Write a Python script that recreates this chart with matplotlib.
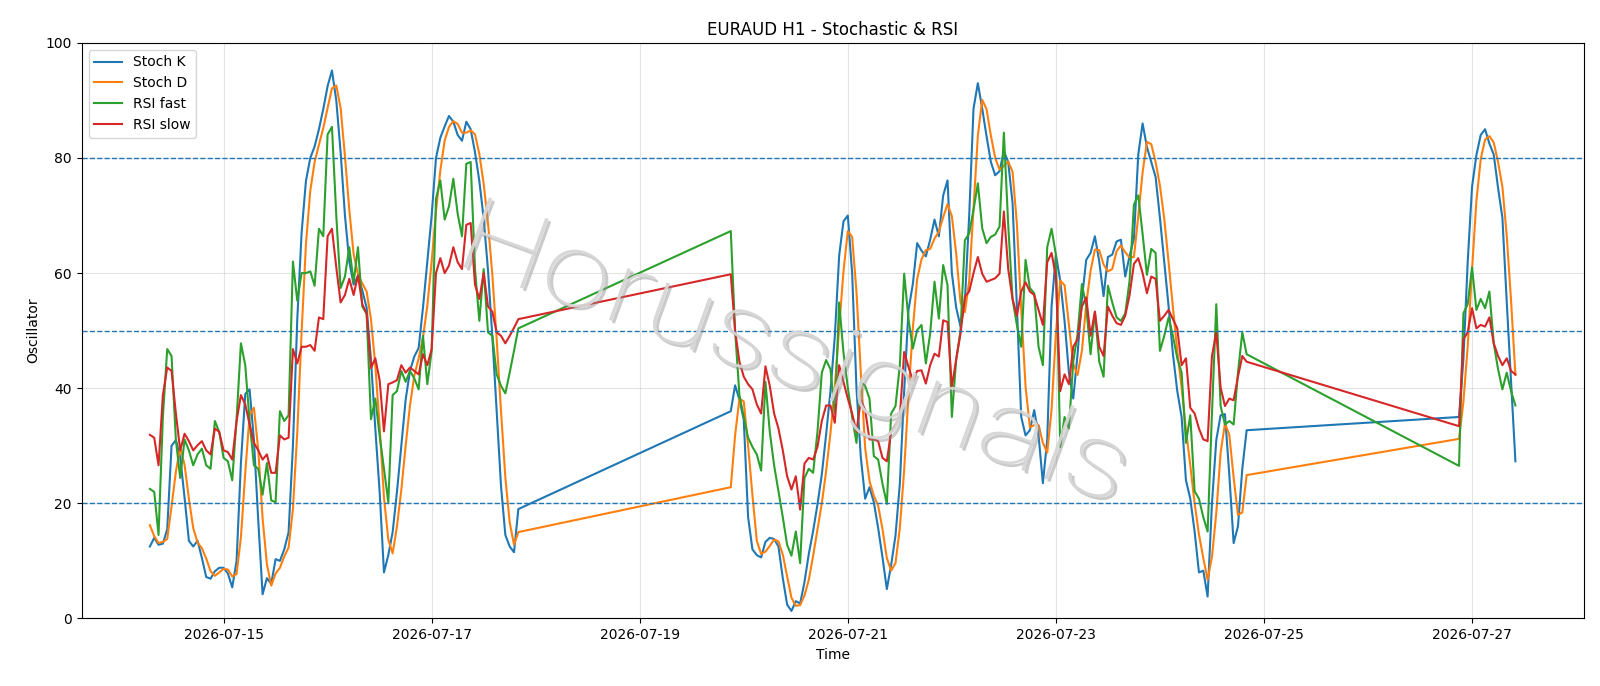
import pandas as pd
import matplotlib
matplotlib.use("Agg")
import matplotlib.pyplot as plt
import matplotlib.patheffects as pe
from matplotlib.textpath import TextPath
from matplotlib.patches import PathPatch
from matplotlib.font_manager import FontProperties
from matplotlib.transforms import Affine2D, IdentityTransform

# ---- time axis: three trading blocks of hourly bars ----
seg_a = pd.date_range("2026-07-14 07:00", "2026-07-17 20:00", freq="h")
seg_b = pd.date_range("2026-07-19 21:00", "2026-07-24 20:00", freq="h")
seg_c = pd.date_range("2026-07-26 21:00", "2026-07-27 10:00", freq="h")

# ---- Stoch K ----
stoch_k_a = [12.5, 14.0, 12.8, 13.0, 15.5, 30.0, 31.0, 28.0, 21.0, 13.5,
             12.5, 13.5, 10.5, 7.2, 6.9, 8.2, 8.8, 8.8, 7.8, 5.4,
             10.0, 27.0, 39.0, 39.8, 31.0, 17.0, 4.2, 7.0, 6.0, 10.3,
             10.0, 12.0, 15.0, 30.0, 52.0, 67.0, 76.0, 80.0, 82.0, 85.0,
             88.5, 92.5, 95.2, 90.0, 81.0, 70.0, 62.0, 58.0, 59.5, 57.0,
             54.0, 45.0, 33.0, 22.0, 8.0, 11.0, 15.0, 22.0, 30.0, 38.0,
             43.0, 45.5, 47.0, 54.0, 62.0, 70.0, 80.0, 83.5, 85.5, 87.3,
             86.3, 84.0, 83.0, 86.3, 85.0, 81.0, 76.0, 69.5, 60.5, 49.0,
             36.0, 23.0, 14.5, 12.5, 11.5, 19.0]
stoch_k_b = [36, 40.5, 38, 34.5, 17.6, 12, 11, 10.6, 13.3, 14,
             13.8, 12.5, 7, 2.4, 1.3, 3, 2.6, 6.3, 11.2, 15.2,
             19.8, 25, 32, 39.5, 49, 63, 69, 70, 60, 40,
             28, 20.8, 22.8, 20.2, 15.7, 10.6, 5.1, 9.3, 14.4, 23.4,
             39.5, 53.6, 58.1, 65.2, 63.9, 62.9, 65.8, 69.3, 66.4, 73.5,
             76.1, 60, 54, 50.7, 55, 70, 88.6, 93, 88.6, 83.8,
             79.3, 77, 77.7, 81.2, 79.3, 72.2, 54.2, 35, 31.8, 32.7,
             36.2, 31.8, 23.5, 31.1, 54.2, 63.2, 58.7, 51.7, 42.7, 38.2,
             45.9, 55.5, 62.3, 63.5, 66.4, 62, 56, 62.8, 63.2, 65.5,
             65.8, 59.4, 63, 66, 80.6, 86, 81.9, 79.3, 76.7, 69.6,
             61.9, 54.2, 45.9, 39.5, 35, 24, 20.8, 15.1, 8, 8.3,
             3.8, 20, 31, 35.3, 35.5, 25, 13.1, 16, 26, 32.7]
stoch_k_c = [35, 45, 62, 75, 80.5, 84, 85, 82.5, 80.6, 74.8, 69.6, 55, 41, 27.3]

# ---- Stoch D ----
stoch_d_a = [16.2, 14.3, 13.1, 13.3, 13.8, 19.5, 25.5, 29.7, 26.7, 20.8,
             15.7, 13.2, 12.2, 10.4, 8.2, 7.4, 8.0, 8.6, 8.5, 7.3,
             7.7, 14.1, 25.3, 35.3, 36.6, 29.3, 17.4, 9.4, 5.7, 7.8,
             8.8, 10.8, 12.3, 19.0, 32.3, 49.7, 65.0, 74.3, 79.3, 82.3,
             85.2, 88.7, 92.1, 92.6, 88.7, 80.3, 71.0, 63.3, 59.8, 58.2,
             56.8, 52.0, 44.0, 33.3, 21.0, 13.7, 11.3, 16.0, 22.3, 30.0,
             37.0, 42.2, 45.2, 48.8, 54.3, 62.0, 70.7, 77.8, 83.0, 85.4,
             86.4, 85.9, 84.4, 84.4, 84.8, 84.1, 80.7, 75.5, 68.7, 59.7,
             48.5, 36.0, 24.5, 16.7, 12.8, 15.0]
stoch_d_b = [22.8, 31.8, 38.2, 37.7, 30.0, 21.4, 13.5, 11.2, 11.6, 12.6,
             13.7, 13.4, 11.1, 7.3, 3.6, 2.2, 2.3, 4.0, 6.7, 10.9,
             15.4, 20.0, 25.6, 32.2, 40.2, 50.5, 60.3, 67.3, 66.3, 56.7,
             42.7, 29.6, 23.9, 21.3, 19.6, 15.5, 10.5, 8.3, 9.6, 15.7,
             25.8, 38.8, 50.4, 59.0, 62.4, 64.0, 64.2, 66.0, 67.2, 69.7,
             72.0, 69.9, 63.4, 54.9, 53.2, 58.6, 71.2, 83.9, 90.1, 88.5,
             83.9, 80.0, 78.0, 78.6, 79.4, 77.6, 68.6, 53.8, 40.3, 33.2,
             33.6, 33.6, 30.5, 28.8, 36.3, 49.5, 58.7, 57.9, 51.0, 44.2,
             42.3, 46.5, 54.6, 60.4, 64.1, 64.0, 61.5, 60.3, 60.7, 63.8,
             64.8, 63.6, 62.7, 62.8, 69.9, 77.5, 82.8, 82.4, 79.3, 75.2,
             69.4, 61.9, 54.0, 46.5, 40.1, 32.8, 26.6, 20.0, 14.6, 10.5,
             6.7, 10.7, 18.3, 28.8, 33.9, 31.9, 24.5, 18.0, 18.4, 24.9]
stoch_d_c = [31.2, 37.6, 47.3, 60.7, 72.5, 79.8, 83.2, 83.8, 82.7, 79.3, 75.0, 66.5, 55.2, 42.3]

# ---- RSI fast ----
rsi_fast_a = [22.5, 22, 14.5, 35, 46.8, 45.6, 31, 24.4, 31.1, 29.2,
              26.6, 28.5, 29.5, 26.6, 26, 34.3, 32.4, 27.9, 27.3, 24,
              34.6, 47.8, 44, 34.3, 26.6, 26, 21.5, 27, 20.5, 20.2,
              36, 34.3, 35.3, 62, 55.2, 60, 60, 60.3, 57.8, 67.7,
              66.4, 84.1, 85.4, 70, 57.4, 59.4, 64.5, 58.4, 64.5, 54.2,
              52.9, 34.6, 38.2, 31.8, 26, 20.2, 38.8, 39.5, 43, 41.1,
              43, 41.7, 39.8, 49.1, 40.7, 46.5, 72.9, 76.1, 69.3, 71.6,
              76.4, 70.3, 66.4, 79, 79.3, 60.7, 51.7, 60.7, 49.7, 49.1,
              42.4, 40.4, 39.1, 42.7, 46.5, 50.4]
rsi_fast_b = [67.3, 50, 38.8, 35, 31.4, 29.8, 28.5, 25.7, 41.1, 32.4,
              26.6, 22.1, 17.6, 12.8, 10.9, 15.1, 9.6, 24.4, 26, 25.3,
              32.4, 42.7, 44.9, 43.3, 35.6, 54.9, 46.2, 40.1, 35, 30.5,
              41.1, 40.4, 38.2, 28.2, 27.6, 23.4, 19.9, 35.6, 36.9, 44,
              59.9, 52, 46.9, 50.1, 51, 44.3, 49.5, 58.5, 52.1, 61.4,
              57.9, 35, 45, 50, 65.7, 66.9, 71, 75.6, 67.8, 65.2,
              66.3, 66.7, 68.1, 84.4, 68.4, 55.5, 51, 47.2, 62.3, 57.4,
              56.5, 47.2, 44, 64.5, 67.7, 63.2, 29.8, 35, 33, 44.6,
              49.4, 58.1, 54.2, 45.9, 53.3, 44.6, 42, 57.8, 54.9, 52.3,
              51.7, 53, 58.7, 71.9, 73.5, 66.8, 59.7, 64.2, 63.5, 46.5,
              49.1, 52.3, 49.1, 45.2, 42.7, 30.5, 35.3, 22.1, 20.8, 17.6,
              15.1, 35.6, 54.6, 36.9, 33.7, 34.3, 33.7, 42.7, 49.7, 45.9]
rsi_fast_c = [26.5, 53, 54.6, 61, 53.6, 55.5, 53.9, 56.8, 47.8, 43.3, 39.8, 42.7, 39.5, 37]

# ---- RSI slow ----
rsi_slow_a = [31.9, 31.4, 26.6, 38.8, 43.6, 43, 35.6, 29.2, 32.1, 30.8,
              29.2, 30.1, 30.8, 29.2, 28.5, 33, 32.4, 29.2, 28.9, 27.6,
              34.3, 38.8, 37.2, 33.7, 30.5, 29.2, 27.6, 28.5, 25.3, 25.3,
              31.8, 31.1, 31.4, 46.8, 44.3, 47.2, 47.2, 47.5, 46.5, 52.3,
              52, 66.4, 67.7, 61, 54.9, 56.2, 59, 56.2, 59.6, 54.6,
              53, 43.5, 45.2, 41.4, 32.5, 40.7, 41, 41.4, 44, 42.7,
              43.6, 43, 42.4, 45.9, 44, 46.8, 60, 62.6, 60, 61.3,
              64.5, 61.9, 60.7, 68.4, 68.7, 58, 55.5, 60, 54.2, 53.3,
              49.7, 49.1, 47.8, 49.1, 50.5, 52]
rsi_slow_b = [59.8, 50, 44.6, 42, 40.7, 39.8, 37.2, 35.6, 43.8, 40.4,
              35.6, 33, 29.2, 24.7, 22.4, 24.7, 18.9, 26.9, 27.9, 27.6,
              29.8, 34.3, 37, 37, 34, 44, 41.1, 38.2, 35.6, 32.4,
              37.9, 36.2, 31.1, 31.1, 30.8, 27.9, 27.3, 32.4, 33.7, 35,
              46.3, 43.7, 41.3, 43, 43.1, 40.8, 44, 46, 45.5, 51.8,
              51.5, 40.2, 45, 49.5, 55.9, 56.8, 60, 62.8, 59.9, 58.5,
              58.8, 59.1, 59.9, 70.7, 60.7, 55.5, 52.6, 56.8, 58.4, 56.8,
              56.2, 53.6, 51, 61.9, 63.5, 59.4, 39.5, 42.4, 40.7, 47.2,
              48.5, 54.2, 55.8, 49.1, 53.3, 47.2, 45.6, 54.2, 52.6, 51.3,
              51, 52.6, 56.2, 61.6, 62.6, 60, 56.5, 59.4, 59, 51.7,
              52.6, 53.6, 52, 50.4, 44, 45.2, 36.6, 35.6, 33, 31.1,
              30.8, 45.6, 49.7, 40.1, 36.9, 38.2, 37.9, 42, 45.6, 44.6]
rsi_slow_c = [33.4, 48.5, 49.7, 53.9, 50.4, 51, 50.7, 52.3, 47.8, 45.6, 44, 45.2, 43, 42.4]

levels = [20, 50, 80]
tick_dates = ["2026-07-15", "2026-07-17", "2026-07-19", "2026-07-21",
              "2026-07-23", "2026-07-25", "2026-07-27"]
watermark = "Horussignals"

times = seg_a.append(seg_b).append(seg_c)
stoch_k = stoch_k_a + stoch_k_b + stoch_k_c
stoch_d = stoch_d_a + stoch_d_b + stoch_d_c
rsi_fast = rsi_fast_a + rsi_fast_b + rsi_fast_c
rsi_slow = rsi_slow_a + rsi_slow_b + rsi_slow_c

W, H, DPI = 1600, 686, 100
fig = plt.figure(figsize=(W / DPI, H / DPI), dpi=DPI)
ax = fig.add_axes([0.051, 0.0985, 0.9388, 0.839])

ax.plot(times, stoch_k, color="#1f77b4", lw=1.5, label="Stoch K")
ax.plot(times, stoch_d, color="#ff7f0e", lw=1.5, label="Stoch D")
ax.plot(times, rsi_fast, color="#2ca02c", lw=1.5, label="RSI fast")
ax.plot(times, rsi_slow, color="#d62728", lw=1.5, label="RSI slow")

for lv in levels:
    ax.axhline(lv, color="#1f77b4", ls="--", lw=1.0)

ax.set_ylim(0, 100)
ticks = pd.to_datetime(tick_dates)
ax.set_xticks(ticks)
ax.set_xticklabels(tick_dates)
ax.grid(True, color="#b0b0b0", alpha=0.35, lw=0.8)
ax.set_title("EURAUD H1 - Stochastic & RSI", fontsize=12)
ax.set_xlabel("Time")
ax.set_ylabel("Oscillator")
ax.legend(loc="upper left")

# watermark: thin, wide lettering, rotated, drawn on top of the lines
fp = FontProperties(family=["Roboto", "DejaVu Sans"], weight="light")
tp = TextPath((0, 0), watermark, size=104, prop=fp)
bb = tp.get_extents()
cx, cy = (bb.x0 + bb.x1) / 2, (bb.y0 + bb.y1) / 2
tr = (Affine2D().translate(-cx, -cy).scale(1.2, 1.0)
      .rotate_deg(-20).translate(W * 0.4975, H * 0.478))
wm = PathPatch(tr.transform_path(tp), facecolor="#d6d6d6", edgecolor="none",
               alpha=0.75, transform=IdentityTransform(), zorder=10,
               path_effects=[pe.withSimplePatchShadow(offset=(2, -2),
                                                      shadow_rgbFace="#8a8a8a",
                                                      alpha=0.45),
                             pe.Normal()])
fig.add_artist(wm)

fig.savefig("out.png", dpi=DPI)
